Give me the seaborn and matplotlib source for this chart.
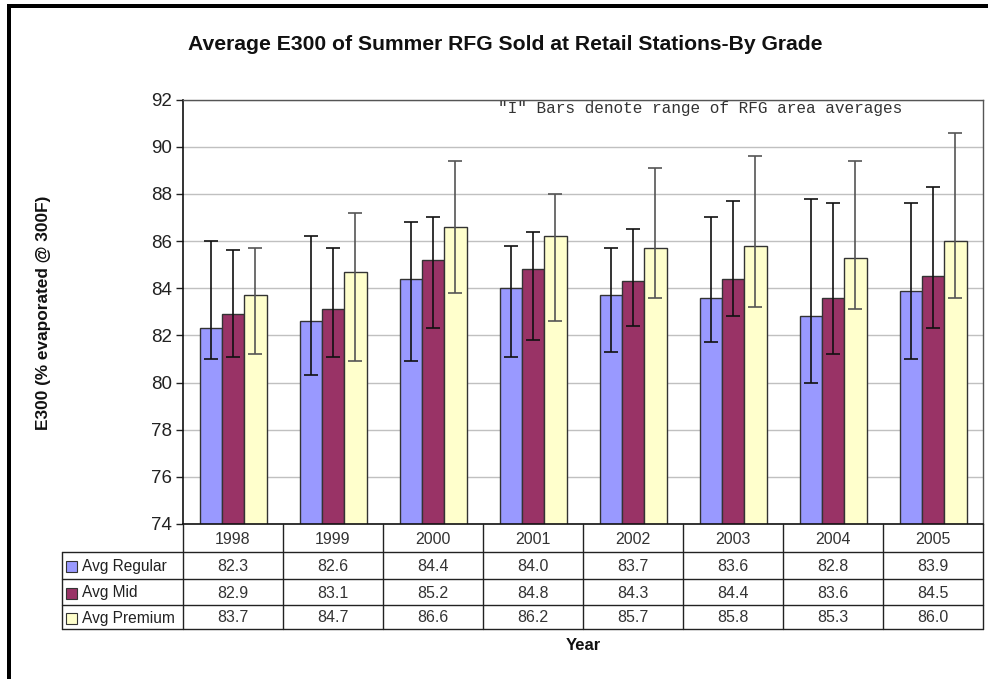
import numpy as np
import pandas as pd
import matplotlib
matplotlib.use("Agg")
import matplotlib.pyplot as plt
import seaborn as sns
from matplotlib.patches import Rectangle

# ---------------- data ----------------
years = ["1998", "1999", "2000", "2001", "2002", "2003", "2004", "2005"]
grades = ["Avg Regular", "Avg Mid", "Avg Premium"]
avg_regular = [82.3, 82.6, 84.4, 84.0, 83.7, 83.6, 82.8, 83.9]
avg_mid = [82.9, 83.1, 85.2, 84.8, 84.3, 84.4, 83.6, 84.5]
avg_premium = [83.7, 84.7, 86.6, 86.2, 85.7, 85.8, 85.3, 86.0]
regular_low = [81.0, 80.3, 80.9, 81.1, 81.3, 81.7, 80.0, 81.0]
regular_high = [86.0, 86.2, 86.8, 85.8, 85.7, 87.0, 87.8, 87.6]
mid_low = [81.1, 81.1, 82.3, 81.8, 82.4, 82.8, 81.2, 82.3]
mid_high = [85.6, 85.7, 87.0, 86.4, 86.5, 87.7, 87.6, 88.3]
premium_low = [81.2, 80.9, 83.8, 82.6, 83.6, 83.2, 83.1, 83.6]
premium_high = [85.7, 87.2, 89.4, 88.0, 89.1, 89.6, 89.4, 90.6]
y_ticks = [74, 76, 78, 80, 82, 84, 86, 88, 90, 92]

colors = ["#9999FF", "#993366", "#FFFFCC"]
err_colors = ["#111111", "#111111", "#555555"]

values = [avg_regular, avg_mid, avg_premium]
lows = [regular_low, mid_low, premium_low]
highs = [regular_high, mid_high, premium_high]

df = pd.DataFrame({
    "Year": years * 3,
    "Grade": sum([[g] * len(years) for g in grades], []),
    "E300": avg_regular + avg_mid + avg_premium,
})

sns.set_theme(style="white")
plt.rcParams["font.family"] = ["Liberation Sans", "DejaVu Sans"]

W, H = 988, 679
fig = plt.figure(figsize=(W / 100, H / 100), dpi=100)
fig.patch.set_facecolor("white")

ax = fig.add_axes([183 / W, 1 - 524 / H, 800 / W, (524 - 99.5) / H])
sns.barplot(data=df, x="Year", y="E300", hue="Grade", order=years,
            hue_order=grades, palette=colors, saturation=1, width=0.67,
            errorbar=None, edgecolor="#333333", linewidth=1.0,
            legend=False, ax=ax)

for cont, vals, lo, hi, ec in zip(ax.containers, values, lows, highs, err_colors):
    xs = [p.get_x() + p.get_width() / 2 for p in cont]
    v = np.array(vals)
    yerr = [v - np.array(lo), np.array(hi) - v]
    ax.errorbar(xs, v, yerr=yerr, fmt="none", ecolor=ec, elinewidth=1.2,
                capsize=5, capthick=1.2, zorder=5)

ax.set_ylim(74, 92)
ax.set_xlim(-0.5, 7.5)
ax.set_yticks(y_ticks)
ax.set_yticklabels([str(t) for t in y_ticks], fontsize=13.5, color="#222222")
ax.set_xticks([])
ax.set_xlabel("")
ax.set_ylabel("")
ax.yaxis.grid(True, color="#C0C0C0", linewidth=1.0)
ax.set_axisbelow(True)
ax.tick_params(axis="y", which="major", left=True, length=5, width=1,
               color="#222222", pad=3)
for s in ["left", "bottom"]:
    ax.spines[s].set_color("#111111")
    ax.spines[s].set_linewidth(1.2)
for s in ["top", "right"]:
    ax.spines[s].set_color("#555555")
    ax.spines[s].set_linewidth(1.0)

# ---------------- data table ----------------
tax = fig.add_axes([62 / W, 1 - 629 / H, (983 - 62) / W, 105 / H])
x_left = -0.5 - 1.21
tax.set_xlim(x_left, 7.5)
tax.set_ylim(105, 0)
tax.axis("off")
row_edges = [0, 28, 55, 81, 105]
lc = "#222222"
for i in range(len(years) + 1):
    tax.plot([i - 0.5, i - 0.5], [0, 105], color=lc, lw=1.0, clip_on=False)
tax.plot([x_left, x_left], [row_edges[1], 105], color=lc, lw=1.0, clip_on=False)
for e in row_edges[1:]:
    tax.plot([x_left, 7.5], [e, e], color=lc, lw=1.0, clip_on=False)

for i, yr in enumerate(years):
    tax.text(i, (row_edges[0] + row_edges[1]) / 2 + 1, yr, ha="center",
             va="center", fontsize=11.5, color="#333333")
for r, (g, vals, c) in enumerate(zip(grades, values, colors)):
    yc = (row_edges[r + 1] + row_edges[r + 2]) / 2 + 1
    tax.add_patch(Rectangle((x_left + 0.04, yc - 5.5), 0.11, 11, facecolor=c,
                            edgecolor="#333333", lw=0.8, clip_on=False))
    tax.text(x_left + 0.20, yc, g, ha="left", va="center", fontsize=11.2,
             color="#222222")
    for i, v in enumerate(vals):
        tax.text(i, yc, f"{v:.1f}", ha="center", va="center", fontsize=11.5,
                 color="#333333")

# ---------------- texts ----------------
fig.text(505 / W, 1 - 45 / H,
         "Average E300 of Summer RFG Sold at Retail Stations-By Grade",
         ha="center", va="center", fontsize=15.2, fontweight="bold",
         color="#111111")
fig.text(44 / W, 1 - 313 / H, "E300 (% evaporated @ 300F)", rotation=90,
         ha="center", va="center", fontsize=12.4, fontweight="bold",
         color="#111111")
fig.text(583 / W, 1 - 646 / H, "Year", ha="center", va="center",
         fontsize=12, fontweight="bold", color="#111111")
fig.text(498 / W, 1 - 109 / H, '"I" Bars denote range of RFG area averages',
         ha="left", va="center", fontsize=11.6,
         family=["Liberation Mono", "DejaVu Sans Mono"], color="#333333")

# ---------------- frame ----------------
fig.add_artist(Rectangle((7 / W, 0), 4 / W, (H - 4) / H,
                         transform=fig.transFigure, color="black", lw=0))
fig.add_artist(Rectangle((7 / W, 1 - 8 / H), (W - 7) / W, 4 / H,
                         transform=fig.transFigure, color="black", lw=0))

fig.savefig("out.png", dpi=100, facecolor="white")
